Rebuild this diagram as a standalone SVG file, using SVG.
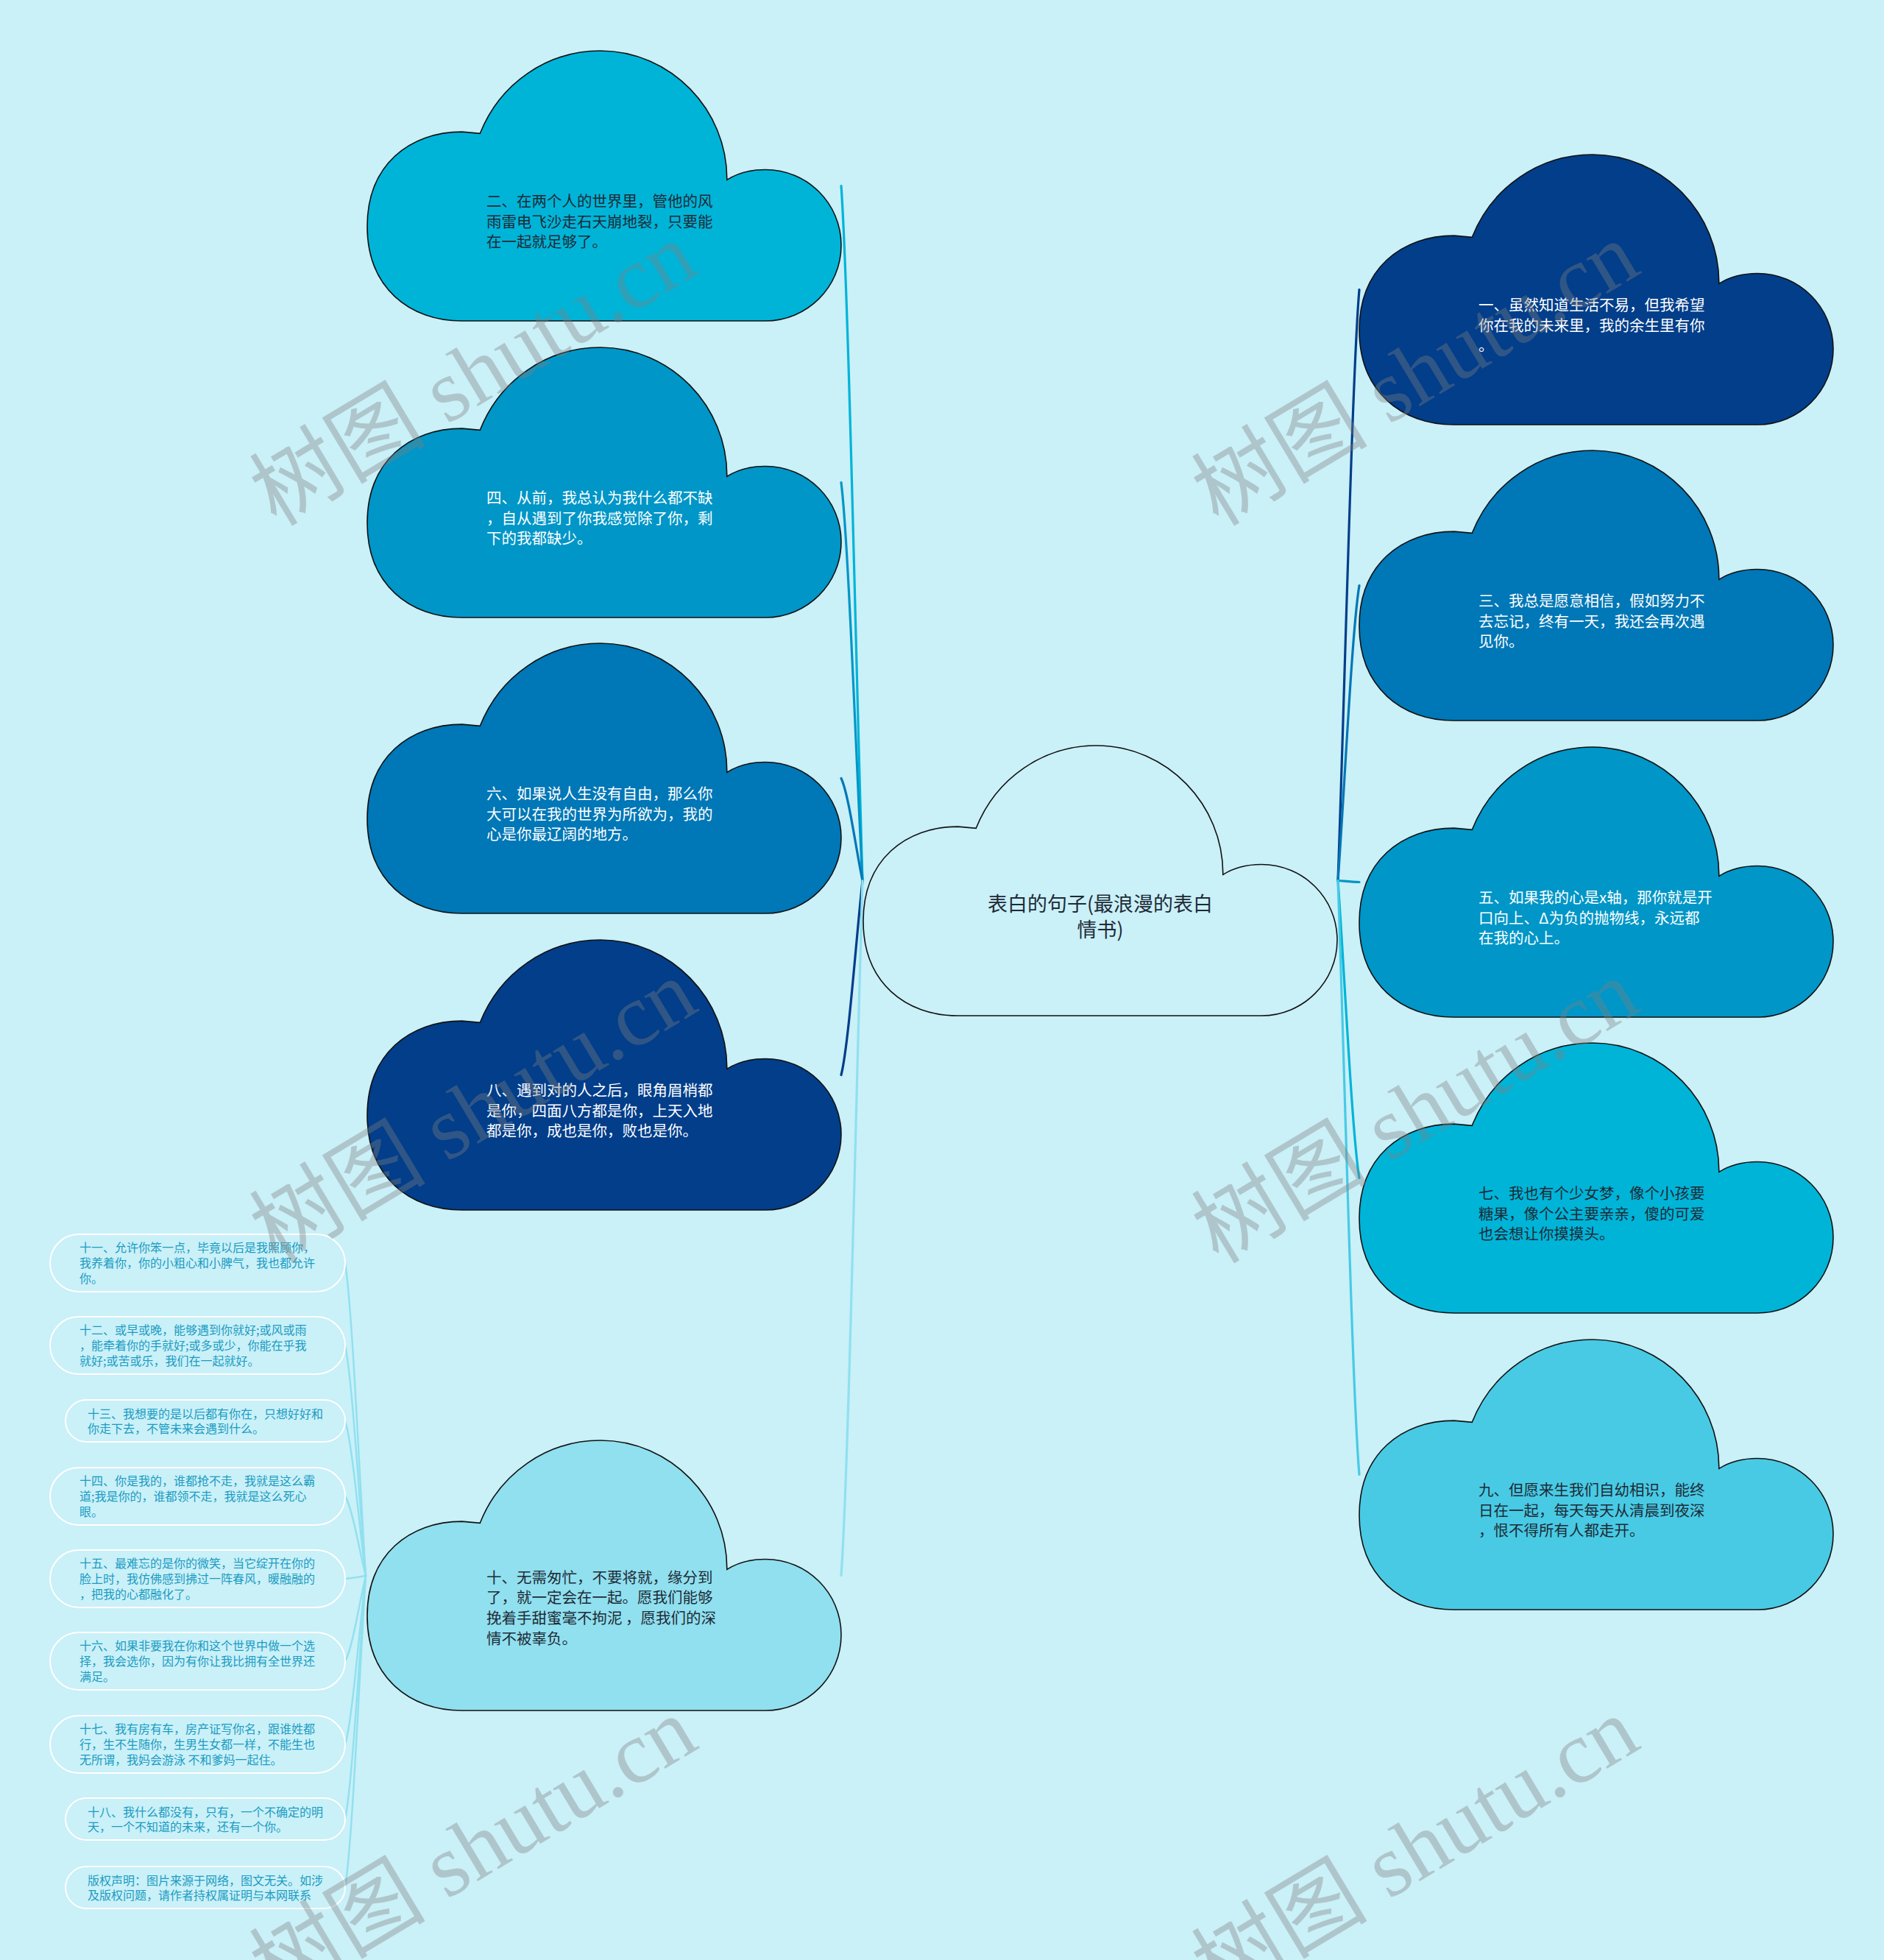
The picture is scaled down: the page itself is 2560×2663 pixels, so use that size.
<svg xmlns="http://www.w3.org/2000/svg" xmlns:xlink="http://www.w3.org/1999/xlink" width="2560" height="2663" viewBox="0 0 2560 2663">
<style>
.cloud{stroke:#111;stroke-width:1.6}
.ct{font-family:"Noto Sans CJK SC","Noto Sans",sans-serif;font-size:20.5px}
.dk{fill:#1e2b36}
.lt{fill:#ffffff}
.title{font-family:"Noto Sans CJK SC","Noto Sans",sans-serif;font-size:27px;fill:#1e2b36;text-anchor:middle}
.pill{fill:none;stroke:#ffffff;stroke-width:2}
.st{font-family:"Noto Sans CJK SC","Noto Sans",sans-serif;font-size:16px;fill:#1a9cc2}
.conn path{fill:none;stroke-width:3.2;stroke-linecap:round}
.sconn path{fill:none;stroke:#90e0ef;stroke-width:2.4;stroke-linecap:round}
.wm{font-family:"Liberation Serif","Noto Sans CJK SC",serif;font-size:120px;fill:#808080;opacity:.37;text-anchor:middle}
</style>
<defs>
<path id="cloud" d="M128.8,367 C57.6,367 0,322 0,238.6 C0,155.1 57.6,110.1 128.8,110.1 L153.3,112.3 C180.3,44 244.7,0 316.8,0 C412.2,0 489.4,80 488.8,175.4 C505,165 522,161.5 541,161.5 C597.9,161.5 644,207.4 644,264.2 C644,321 597.9,367 541,367 Z"/>
</defs>
<rect x="0" y="0" width="2560" height="2663" fill="#caf0f8"/>

<g id="connectors">
<g class="conn">
<path stroke="#00b4d8" d="M1143,252.5 C1153,394.1 1163.3,913.3 1172,1196.5"/>
<path stroke="#0096c7" d="M1143,655.5 C1153,736.7 1163.3,1034.2 1172,1196.5"/>
<path stroke="#0077b6" d="M1143,1057.5 C1153,1078.4 1163.3,1154.8 1172,1196.5"/>
<path stroke="#023e8a" d="M1143,1460.5 C1153,1420.9 1163.3,1275.7 1172,1196.5"/>
<path stroke="#90e0ef" d="M1143,2140.5 C1153,1998.9 1163.3,1479.7 1172,1196.5"/>
<path stroke="#023e8a" d="M1847,393.5 C1837,514 1826.7,955.6 1818,1196.5"/>
<path stroke="#0077b6" d="M1847,795.5 C1837,855.7 1826.7,1076.2 1818,1196.5"/>
<path stroke="#0096c7" d="M1847,1198.5 C1837,1198.2 1826.7,1197.1 1818,1196.5"/>
<path stroke="#00b4d8" d="M1847,1600.5 C1837,1539.9 1826.7,1317.7 1818,1196.5"/>
<path stroke="#48cae4" d="M1847,2003.5 C1837,1882.5 1826.7,1438.6 1818,1196.5"/>
</g>
<g class="sconn">
<path d="M469,1716 C479,1779.8 488.6,2013.5 497,2141"/>
<path d="M469,1828 C479,1875 488.6,2047.1 497,2141"/>
<path d="M469,1930.5 C479,1962.1 488.6,2077.9 497,2141"/>
<path d="M469,2033 C479,2049.2 488.6,2108.6 497,2141"/>
<path d="M469,2145 C479,2144.4 488.6,2142.2 497,2141"/>
<path d="M469,2257 C479,2239.6 488.6,2175.8 497,2141"/>
<path d="M469,2370 C479,2335.7 488.6,2209.7 497,2141"/>
<path d="M469,2471.5 C479,2421.9 488.6,2240.2 497,2141"/>
<path d="M469,2564.5 C479,2501 488.6,2268 497,2141"/>
</g>
</g>

<g id="center">
<use href="#cloud" xlink:href="#cloud" class="cloud" x="1173" y="1013" fill="#caf0f8"/>
<text class="title"><tspan x="1495" y="1238">表白的句子(最浪漫的表白</tspan><tspan x="1495" y="1273">情书)</tspan></text>
</g>

<g id="n2">
<use href="#cloud" xlink:href="#cloud" class="cloud" x="499" y="69" fill="#00b4d8"/>
<text class="ct dk"><tspan x="661" y="281">二、在两个人的世界里，管他的风</tspan><tspan x="661" y="309">雨雷电飞沙走石天崩地裂，只要能</tspan><tspan x="661" y="336">在一起就足够了。</tspan></text>
</g>
<g id="n4">
<use href="#cloud" xlink:href="#cloud" class="cloud" x="499" y="472" fill="#0096c7"/>
<text class="ct lt"><tspan x="661" y="684">四、从前，我总认为我什么都不缺</tspan><tspan x="661" y="712">，自从遇到了你我感觉除了你，剩</tspan><tspan x="661" y="739">下的我都缺少。</tspan></text>
</g>
<g id="n6">
<use href="#cloud" xlink:href="#cloud" class="cloud" x="499" y="874" fill="#0077b6"/>
<text class="ct lt"><tspan x="661" y="1086">六、如果说人生没有自由，那么你</tspan><tspan x="661" y="1114">大可以在我的世界为所欲为，我的</tspan><tspan x="661" y="1141">心是你最辽阔的地方。</tspan></text>
</g>
<g id="n8">
<use href="#cloud" xlink:href="#cloud" class="cloud" x="499" y="1277" fill="#023e8a"/>
<text class="ct lt"><tspan x="661" y="1489">八、遇到对的人之后，眼角眉梢都</tspan><tspan x="661" y="1517">是你，四面八方都是你，上天入地</tspan><tspan x="661" y="1544">都是你，成也是你，败也是你。</tspan></text>
</g>
<g id="n10">
<use href="#cloud" xlink:href="#cloud" class="cloud" x="499" y="1957" fill="#90e0ef"/>
<text class="ct dk"><tspan x="661" y="2151">十、无需匆忙，不要将就，缘分到</tspan><tspan x="661" y="2178">了，就一定会在一起。愿我们能够</tspan><tspan x="661" y="2206">挽着手甜蜜毫不拘泥 ，愿我们的深</tspan><tspan x="661" y="2234">情不被辜负。</tspan></text>
</g>

<g id="n1">
<use href="#cloud" xlink:href="#cloud" class="cloud" x="1847" y="210" fill="#023e8a"/>
<text class="ct lt"><tspan x="2009" y="422">一、虽然知道生活不易，但我希望</tspan><tspan x="2009" y="450">你在我的未来里，我的余生里有你</tspan><tspan x="2009" y="477">。</tspan></text>
</g>
<g id="n3">
<use href="#cloud" xlink:href="#cloud" class="cloud" x="1847" y="612" fill="#0077b6"/>
<text class="ct lt"><tspan x="2009" y="824">三、我总是愿意相信，假如努力不</tspan><tspan x="2009" y="852">去忘记，终有一天，我还会再次遇</tspan><tspan x="2009" y="879">见你。</tspan></text>
</g>
<g id="n5">
<use href="#cloud" xlink:href="#cloud" class="cloud" x="1847" y="1015" fill="#0096c7"/>
<text class="ct lt"><tspan x="2009" y="1227">五、如果我的心是x轴，那你就是开</tspan><tspan x="2009" y="1255">口向上、Δ为负的抛物线，永远都</tspan><tspan x="2009" y="1282">在我的心上。</tspan></text>
</g>
<g id="n7">
<use href="#cloud" xlink:href="#cloud" class="cloud" x="1847" y="1417" fill="#00b4d8"/>
<text class="ct dk"><tspan x="2009" y="1629">七、我也有个少女梦，像个小孩要</tspan><tspan x="2009" y="1657">糖果，像个公主要亲亲，傻的可爱</tspan><tspan x="2009" y="1684">也会想让你摸摸头。</tspan></text>
</g>
<g id="n9">
<use href="#cloud" xlink:href="#cloud" class="cloud" x="1847" y="1820" fill="#48cae4"/>
<text class="ct dk"><tspan x="2009" y="2032">九、但愿来生我们自幼相识，能终</tspan><tspan x="2009" y="2060">日在一起，每天每天从清晨到夜深</tspan><tspan x="2009" y="2087">，恨不得所有人都走开。</tspan></text>
</g>

<g id="n11">
<rect class="pill" x="68" y="1677" width="401" height="78" rx="39"/>
<text class="st"><tspan x="108" y="1701">十一、允许你笨一点，毕竟以后是我照顾你，</tspan><tspan x="108" y="1722">我养着你，你的小粗心和小脾气，我也都允许</tspan><tspan x="108" y="1743">你。</tspan></text>
</g>
<g id="n12">
<rect class="pill" x="68" y="1789" width="401" height="78" rx="39"/>
<text class="st"><tspan x="108" y="1813">十二、或早或晚，能够遇到你就好;或风或雨</tspan><tspan x="108" y="1834">，能牵着你的手就好;或多或少，你能在乎我</tspan><tspan x="108" y="1855">就好;或苦或乐，我们在一起就好。</tspan></text>
</g>
<g id="n13">
<rect class="pill" x="89" y="1902" width="380" height="57" rx="28.5"/>
<text class="st"><tspan x="119" y="1927">十三、我想要的是以后都有你在，只想好好和</tspan><tspan x="119" y="1947">你走下去，不管未来会遇到什么。</tspan></text>
</g>
<g id="n14">
<rect class="pill" x="68" y="1994" width="401" height="78" rx="39"/>
<text class="st"><tspan x="108" y="2018">十四、你是我的，谁都抢不走，我就是这么霸</tspan><tspan x="108" y="2039">道;我是你的，谁都领不走，我就是这么死心</tspan><tspan x="108" y="2060">眼。</tspan></text>
</g>
<g id="n15">
<rect class="pill" x="68" y="2106" width="401" height="78" rx="39"/>
<text class="st"><tspan x="108" y="2130">十五、最难忘的是你的微笑，当它绽开在你的</tspan><tspan x="108" y="2151">脸上时，我仿佛感到拂过一阵春风，暖融融的</tspan><tspan x="108" y="2172">，把我的心都融化了。</tspan></text>
</g>
<g id="n16">
<rect class="pill" x="68" y="2218" width="401" height="78" rx="39"/>
<text class="st"><tspan x="108" y="2242">十六、如果非要我在你和这个世界中做一个选</tspan><tspan x="108" y="2263">择，我会选你，因为有你让我比拥有全世界还</tspan><tspan x="108" y="2284">满足。</tspan></text>
</g>
<g id="n17">
<rect class="pill" x="68" y="2331" width="401" height="78" rx="39"/>
<text class="st"><tspan x="108" y="2355">十七、我有房有车，房产证写你名，跟谁姓都</tspan><tspan x="108" y="2376">行，生不生随你，生男生女都一样，不能生也</tspan><tspan x="108" y="2397">无所谓，我妈会游泳 不和爹妈一起住。</tspan></text>
</g>
<g id="n18">
<rect class="pill" x="89" y="2443" width="380" height="57" rx="28.5"/>
<text class="st"><tspan x="119" y="2468">十八、我什么都没有，只有，一个不确定的明</tspan><tspan x="119" y="2488">天，一个不知道的未来，还有一个你。</tspan></text>
</g>
<g id="n19">
<rect class="pill" x="89" y="2536" width="380" height="57" rx="28.5"/>
<text class="st"><tspan x="119" y="2561">版权声明：图片来源于网络，图文无关。如涉</tspan><tspan x="119" y="2581">及版权问题，请作者持权属证明与本网联系</tspan></text>
</g>

<g id="watermarks">
<text class="wm" transform="translate(664,543) rotate(-31)">树图 shutu.cn</text>
<text class="wm" transform="translate(1944,543) rotate(-31)">树图 shutu.cn</text>
<text class="wm" transform="translate(664,1545) rotate(-31)">树图 shutu.cn</text>
<text class="wm" transform="translate(1944,1545) rotate(-31)">树图 shutu.cn</text>
<text class="wm" transform="translate(664,2547) rotate(-31)">树图 shutu.cn</text>
<text class="wm" transform="translate(1944,2547) rotate(-31)">树图 shutu.cn</text>
</g>
</svg>
